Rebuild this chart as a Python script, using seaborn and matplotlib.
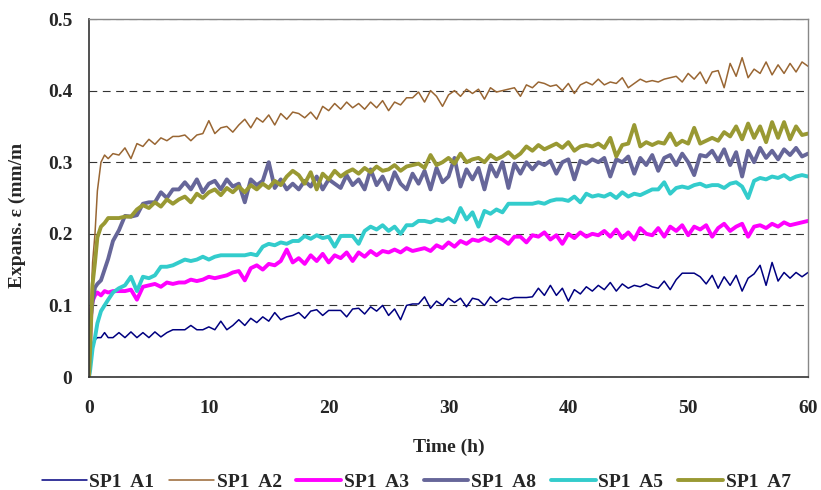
import numpy as np
import pandas as pd
import seaborn as sns
import matplotlib
matplotlib.use("Agg")
import matplotlib.pyplot as plt

# sampling times (h): dense at start, then every half hour
hours = [0, 0.1, 0.2, 0.3, 0.5, 0.7, 1.0, 1.3, 1.6, 2.0] + [2.5 + 0.5 * i for i in range(116)]

# expansion readings, in 1e-3 mm/m
a1 = [0, 15, 35, 40, 52, 55, 55, 62, 55, 55,
      62, 55, 63, 55, 62, 55, 63, 56, 62, 66,
      66, 66, 72, 66, 66, 70, 66, 78, 66, 72,
      80, 72, 82, 76, 84, 78, 90, 80, 84, 86,
      90, 82, 92, 94, 86, 93, 93, 93, 84, 95,
      96, 88, 98, 92, 100, 86, 95, 80, 100, 102,
      102, 112, 96, 106, 100, 110, 104, 110, 98, 110,
      108, 100, 112, 104, 110, 108, 111, 111, 111, 112,
      124, 114, 128, 114, 124, 106, 122, 116, 126, 120,
      128, 122, 132, 120, 130, 124, 128, 126, 130, 126,
      124, 134, 122, 136, 145, 145, 145, 140, 130, 142,
      124, 140, 128, 142, 120, 138, 144, 156, 128, 160,
      134, 146, 138, 146, 140, 146]
a2 = [0, 60, 120, 160, 200, 260, 300, 310, 305, 312,
      310, 320, 305, 326, 322, 332, 325, 334, 330, 336,
      336, 338, 330, 338, 340, 358, 340, 348, 350, 342,
      352, 360, 348, 362, 356, 366, 352, 368, 360, 370,
      368, 362, 370, 360, 378, 372, 382, 374, 384, 376,
      382, 374, 384, 376, 386, 372, 384, 380, 390, 390,
      398, 384, 400, 392, 378, 394, 400, 392, 402, 396,
      402, 388, 404, 398, 400, 402, 404, 392, 408, 404,
      412, 410, 406, 408, 400, 410, 396, 408, 412, 408,
      416, 408, 412, 410, 418, 404, 410, 416, 412, 414,
      412, 416, 418, 420, 412, 424, 416, 426, 410, 426,
      428, 404, 438, 420, 446, 418, 430, 424, 440, 422,
      436, 424, 438, 426, 440, 434]
a3 = [0, 50, 95, 106, 114, 118, 114, 120, 118, 120,
      120, 120, 122, 108, 126, 128, 130, 126, 132, 130,
      132, 132, 136, 134, 136, 140, 138, 140, 142, 146,
      148, 135, 152, 156, 150, 158, 156, 162, 178, 160,
      166, 158, 170, 162, 172, 160, 170, 166, 174, 162,
      174, 168, 176, 170, 176, 174, 178, 174, 180, 176,
      178, 180, 176, 184, 180, 188, 182, 190, 186, 192,
      190, 194, 190, 196, 192, 186, 196, 196, 188, 198,
      196, 202, 192, 198, 186, 200, 194, 202, 196, 200,
      198, 204, 196, 206, 194, 202, 192, 208, 200, 198,
      208, 196, 210, 204, 212, 198, 210, 206, 212, 196,
      208, 214, 204, 210, 214, 196, 210, 212, 208, 214,
      210, 216, 212, 214, 216, 218]
a8 = [0, 80, 90, 105, 125, 130, 135, 150, 165, 190,
      205, 225, 224, 226, 242, 244, 244, 258, 250, 262,
      262, 272, 262, 276, 258, 270, 274, 262, 276, 266,
      270, 244, 276, 268, 274, 300, 264, 276, 262, 270,
      262, 274, 266, 280, 262, 276, 270, 264, 282, 268,
      276, 262, 290, 268, 280, 262, 286, 270, 262, 284,
      270, 288, 262, 292, 272, 280, 306, 266, 290, 276,
      292, 262, 296, 280, 300, 264, 298, 284, 300, 290,
      300, 296, 302, 284, 300, 304, 276, 302, 298, 304,
      300, 306, 280, 304, 300, 308, 284, 306, 296, 310,
      288, 306, 310, 296, 312, 300, 282, 310, 308, 316,
      302, 318, 296, 314, 280, 316, 300, 320, 306, 316,
      304, 318, 310, 320, 308, 312]
a5 = [0, 10, 25, 40, 55, 75, 92, 100, 108, 118,
      124, 128, 140, 120, 140, 138, 142, 154, 154, 156,
      160, 164, 162, 164, 168, 164, 168, 170, 170, 170,
      170, 170, 172, 170, 182, 186, 184, 188, 186, 190,
      190, 197, 193, 198, 194, 196, 182, 197, 197, 197,
      186, 204, 210, 206, 212, 204, 210, 200, 212, 212,
      218, 218, 216, 220, 218, 222, 216, 236, 220, 230,
      210, 232, 228, 234, 230, 242, 242, 242, 242, 242,
      244, 242, 246, 248, 248, 246, 252, 244, 256, 252,
      254, 252, 256, 250, 258, 252, 256, 254, 258, 262,
      262, 272, 256, 264, 266, 264, 268, 270, 266, 268,
      268, 264, 270, 272, 266, 250, 274, 278, 276, 280,
      278, 282, 276, 280, 282, 280]
a7 = [0, 40, 90, 130, 160, 195, 210, 215, 222, 222,
      222, 224, 224, 234, 240, 236, 244, 238, 248, 242,
      248, 252, 244, 256, 250, 258, 262, 254, 264, 258,
      266, 258, 268, 262, 270, 264, 274, 268, 280, 288,
      282, 270, 286, 262, 284, 276, 288, 280, 286, 290,
      284, 292, 286, 294, 288, 290, 296, 288, 294, 296,
      298, 292, 310, 296, 300, 306, 298, 312, 300, 304,
      306, 300, 310, 304, 308, 314, 306, 312, 322, 316,
      324, 318, 322, 326, 320, 328, 316, 322, 324, 322,
      326, 320, 334, 308, 324, 326, 352, 322, 328, 324,
      328, 326, 340, 324, 330, 326, 348, 326, 330, 334,
      330, 342, 336, 350, 332, 354, 334, 350, 328, 356,
      334, 356, 332, 350, 338, 340]

names = ["SP1  A1", "SP1  A2", "SP1  A3", "SP1  A8", "SP1  A5", "SP1  A7"]
colors = ["#000080", "#996633", "#ff00ff", "#666699", "#33cccc", "#999933"]
widths = [1.1, 1.1, 2.8, 2.8, 2.8, 2.8]

sns.set_style("white")
plt.rcParams["font.family"] = ["Liberation Serif", "DejaVu Serif"]
plt.rcParams["font.weight"] = "bold"

frames = []
for name, vals in zip(names, [a1, a2, a3, a8, a5, a7]):
    frames.append(pd.DataFrame({"Time": hours, "Expansion": np.array(vals) / 1000, "Series": name}))
df = pd.concat(frames, ignore_index=True)

fig = plt.figure(figsize=(8.21, 4.90), dpi=100)
ax = fig.add_axes([0.1084, 0.2306, 0.8758, 0.7306])

for name, col, lw in zip(names, colors, widths):
    sns.lineplot(data=df[df["Series"] == name], x="Time", y="Expansion", color=col,
                 linewidth=lw, label=name, estimator=None, ax=ax, legend=False)

ax.set_xlim(0, 60)
ax.set_ylim(0, 0.5)
ax.set_xticks([0, 10, 20, 30, 40, 50, 60])
ax.set_yticks([0, 0.1, 0.2, 0.3, 0.4, 0.5])
ax.set_yticklabels(["0", "0.1", "0.2", "0.3", "0.4", "0.5"])
ax.tick_params(axis="x", direction="inout", length=9, width=1, labelsize=14, pad=12, color="#333333")
ax.tick_params(axis="y", direction="out", length=5, width=1, labelsize=14, pad=7, color="#333333")
ax.yaxis.grid(True, linestyle=(0, (7, 5)), linewidth=0.8, color="#333333")
ax.set_axisbelow(True)
for side in ["left", "bottom"]:
    ax.spines[side].set_color("#333333")
    ax.spines[side].set_linewidth(1.2)
for side in ["top", "right"]:
    ax.spines[side].set_color("#888888")
    ax.spines[side].set_linewidth(1.0)

ax.set_xlabel("Time (h)", fontsize=14, fontweight="bold", labelpad=16)
ax.set_ylabel("Expans. ε (mm/m", fontsize=14, fontweight="bold")
ax.yaxis.set_label_coords(-0.0876, 0.45)

handles = [plt.Line2D([], [], color=c, linewidth=w) for c, w in zip(colors, widths)]
fig.legend(handles, names, loc="center", bbox_to_anchor=(0.507, 0.0163), ncol=6, frameon=False,
           fontsize=14, handlelength=2.3, columnspacing=0.75, handletextpad=0.15,
           borderpad=0, borderaxespad=0)

fig.savefig("out.png", dpi=100)
